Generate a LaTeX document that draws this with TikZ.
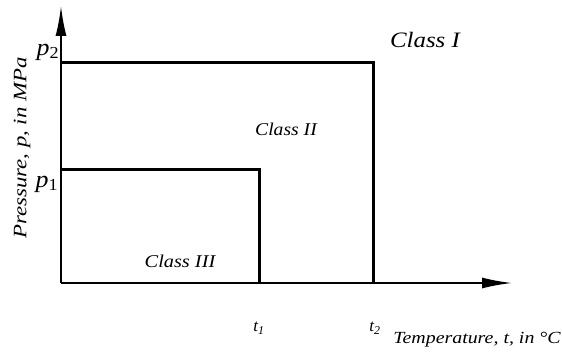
\documentclass[tikz,border=0pt]{standalone}
\usepackage{fontspec}
\setmainfont{Liberation Serif}
\usetikzlibrary{arrows.meta}
\tikzset{
  axis/.style={line width=2pt,-{Latex[length=30pt,width=11pt]}},
  region/.style={line width=3pt,line join=miter},
  lbl/.style={font=\itshape,inner sep=0pt},
}
\newcommand{\wstretch}[2]{\scalebox{#1}[1]{#2}}
\begin{document}
\begin{tikzpicture}[x=1pt,y=-1pt]
\useasboundingbox (0,0) rectangle (562,352);
\coordinate (O) at (61,283);
\coordinate (ytop) at (61,6);
\coordinate (xend) at (512,283);
\coordinate (p2) at (61,63);
\coordinate (p1) at (61,170);
\coordinate (t1) at (259,283);
\coordinate (t2) at (373,283);
\draw[region] (p2) -- (p2 -| t2) -- (t2);
\draw[region] (p1) -- (p1 -| t1) -- (t1);
\draw[axis] (O) -- (ytop);
\draw[axis] (O) -- (xend);
\node[lbl,font=\itshape\fontsize{22}{24}\selectfont] (c1) at (425,40) {\wstretch{1.13}{Class I}};
\node[lbl,font=\itshape\fontsize{18}{20}\selectfont] (c2) at (286,129) {\wstretch{1.09}{Class II}};
\node[lbl,font=\itshape\fontsize{18}{20}\selectfont] (c3) at (180,261) {\wstretch{1.13}{Class III}};
\node[lbl,font=\itshape\fontsize{24}{26}\selectfont] (lp2) at (48,52) {\wstretch{1.08}{p\textsubscript{\upshape 2}}};
\node[lbl,font=\itshape\fontsize{24}{26}\selectfont] (lp1) at (47,184) {\wstretch{1.08}{p\textsubscript{\upshape 1}}};
\node[lbl,font=\itshape\fontsize{17}{19}\selectfont] (lt1) at (259,328) {t\textsubscript{1}};
\node[lbl,font=\itshape\fontsize{17}{19}\selectfont] (lt2) at (375,328) {t\textsubscript{2}};
\node[lbl,font=\itshape\fontsize{17}{19}\selectfont] (tl) at (477,340) {\wstretch{1.17}{Temperature, t, in \textdegree C}};
\node[lbl,font=\itshape\fontsize{19}{21}\selectfont,rotate=90] (pl) at (22,148) {\wstretch{1.2}{Pressure, p, in MPa}};
\end{tikzpicture}
\end{document}
